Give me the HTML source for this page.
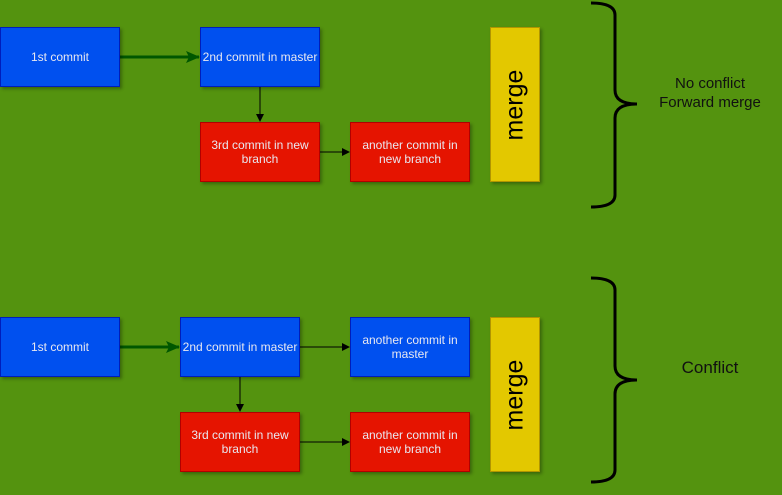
<!DOCTYPE html>
<html><head><style>
body{margin:0;width:782px;height:495px;background:#54930f;overflow:hidden;position:relative;font-family:"Liberation Sans",sans-serif}
.b{position:absolute;width:120px;height:60px;display:flex;align-items:center;justify-content:center;text-align:center;color:#e8e8f0;font-size:12px;line-height:14px;box-sizing:border-box;box-shadow:2px 2px 3px rgba(0,0,0,.3)}
.bl{background:#0050ef;border:1px solid #001dbc}
.rd{background:#e51400;border:1px solid #b20000}
.m{position:absolute;width:50px;height:155px;background:#e3c800;border:1px solid #b09500;box-sizing:border-box;box-shadow:2px 2px 3px rgba(0,0,0,.3)}
.m span{position:absolute;left:50%;top:50%;transform:translate(-50%,-50%) rotate(-90deg);font-size:25px;color:#000;white-space:nowrap}
.t{position:absolute;font-size:15px;color:#111;text-align:center;line-height:19px}
svg{position:absolute;left:0;top:0}
</style></head><body>
<svg width="782" height="495">
<defs>
<marker id="a" markerWidth="8" markerHeight="8" refX="7" refY="4" orient="auto" markerUnits="userSpaceOnUse"><path d="M0,0L8,4L0,8z" fill="#000"/></marker>
<marker id="g" markerWidth="14" markerHeight="12" refX="13" refY="6" orient="auto" markerUnits="userSpaceOnUse"><path d="M0,0L14,6L0,12L3,6z" fill="#005700"/></marker>
</defs>
<g fill="none">
<line x1="120" y1="57" x2="199" y2="57" stroke="#005700" stroke-width="3" marker-end="url(#g)"/>
<line x1="260" y1="87" x2="260" y2="121" stroke="#000" marker-end="url(#a)"/>
<line x1="320" y1="152" x2="349" y2="152" stroke="#000" marker-end="url(#a)"/>
<line x1="120" y1="347" x2="179" y2="347" stroke="#005700" stroke-width="3" marker-end="url(#g)"/>
<line x1="300" y1="347" x2="349" y2="347" stroke="#000" marker-end="url(#a)"/>
<line x1="240" y1="377" x2="240" y2="411" stroke="#000" marker-end="url(#a)"/>
<line x1="300" y1="442" x2="349" y2="442" stroke="#000" marker-end="url(#a)"/>
<path d="M591,3 Q615,3 615,15 V90 Q615,104 637,104 Q615,104 615,118 V195 Q615,207 591,207" stroke="#000" stroke-width="3"/>
<path d="M591,278 Q615,278 615,290 V366 Q615,380 637,380 Q615,380 615,394 V470 Q615,482 591,482" stroke="#000" stroke-width="3"/>
</g>
</svg>
<div class="b bl" style="left:0;top:27px">1st commit</div>
<div class="b bl" style="left:200px;top:27px">2nd commit in master</div>
<div class="b rd" style="left:200px;top:122px">3rd commit in new<br>branch</div>
<div class="b rd" style="left:350px;top:122px">another commit in<br>new branch</div>
<div class="m" style="left:490px;top:27px"><span>merge</span></div>
<div class="t" style="left:640px;top:74px;width:140px">No conflict<br>Forward merge</div>
<div class="b bl" style="left:0;top:317px">1st commit</div>
<div class="b bl" style="left:180px;top:317px">2nd commit in master</div>
<div class="b bl" style="left:350px;top:317px">another commit in<br>master</div>
<div class="b rd" style="left:180px;top:412px">3rd commit in new<br>branch</div>
<div class="b rd" style="left:350px;top:412px">another commit in<br>new branch</div>
<div class="m" style="left:490px;top:317px"><span>merge</span></div>
<div class="t" style="left:640px;top:358px;width:140px;font-size:17px">Conflict</div>
</body></html>
